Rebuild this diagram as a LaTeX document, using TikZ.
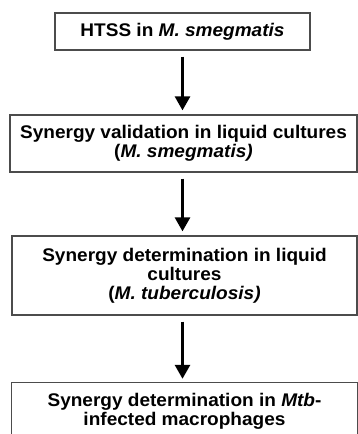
\documentclass[tikz,border=0pt]{standalone}
\usepackage{fontspec}
\setmainfont[FakeStretch=1.04]{Liberation Sans}
\usetikzlibrary{arrows.meta}
\begin{document}
\begin{tikzpicture}[x=1pt,y=-1pt,
  boxfont/.style={font=\bfseries\fontsize{18.3}{18.8}\selectfont},
  stepbox/.style={draw=black!70, line width=1.3pt, fill=white, align=center,
    boxfont, inner sep=0pt},
  flow/.style={line width=2.8pt, -{Triangle[width=15pt,length=14pt]},
    shorten <=6pt, shorten >=4pt}]
\clip (0,0) rectangle (358,434);
\fill[white] (0,0) rectangle (358,434);
\node[stepbox, minimum width=255pt, minimum height=37pt] (b1) at (182.5,31.5)
  {HTSS in \textit{M. smegmatis}};
\node[stepbox, minimum width=347pt, minimum height=57pt] (b2) at (183.5,143.5)
  {Synergy validation in liquid cultures\\(\textit{M. smegmatis)}};
\node[stepbox, minimum width=345pt, minimum height=79pt] (b3) at (184.5,275.5)
  {Synergy determination in liquid\\cultures\\(\textit{M. tuberculosis)}};
\node[align=center, boxfont, inner sep=0pt,
  minimum width=345pt, minimum height=57pt] (b4) at (184.5,411.5)
  {Synergy determination in \textit{Mtb}-\\infected macrophages};
\draw[black!70, line width=1.3pt] ([yshift=-40pt]b4.south west) -- (b4.north west)
  -- (b4.north east) -- ([yshift=-40pt]b4.south east);
\draw[flow] (b1.south -| 182.5,0) -- (b2.north -| 182.5,0);
\draw[flow] (b2.south -| 182.5,0) -- (b3.north -| 182.5,0);
\draw[flow] (b3.south -| 182.5,0) -- (b4.north -| 182.5,0);
\end{tikzpicture}
\end{document}
